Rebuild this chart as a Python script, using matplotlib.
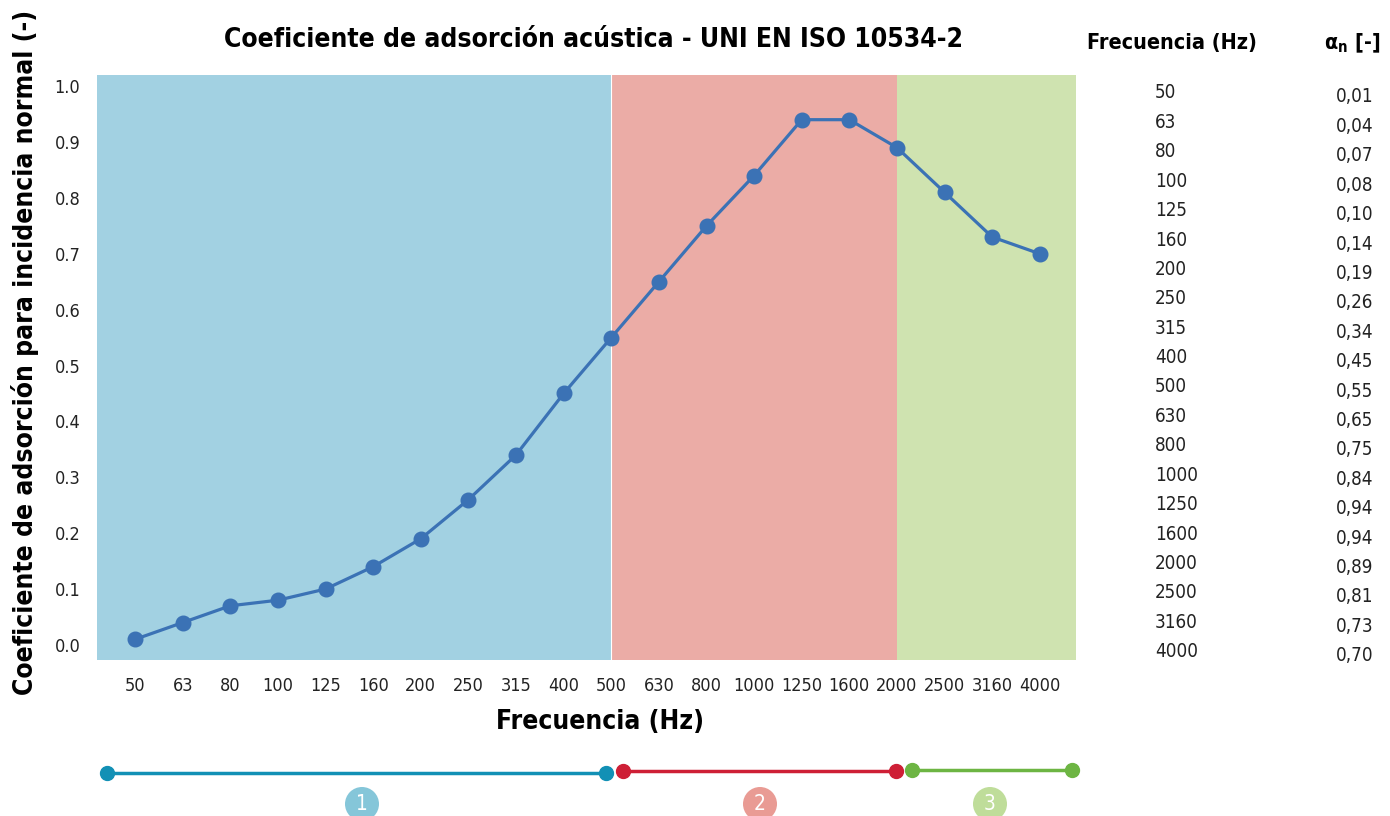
import matplotlib
matplotlib.use("Agg")
import matplotlib.pyplot as plt
from matplotlib.patches import Circle

plt.rcParams['font.family'] = ['DejaVu Sans']
plt.rcParams['font.stretch'] = 'condensed'

freqs = ["50", "63", "80", "100", "125", "160", "200", "250", "315", "400",
         "500", "630", "800", "1000", "1250", "1600", "2000", "2500", "3160", "4000"]
alpha = [0.01, 0.04, 0.07, 0.08, 0.10, 0.14, 0.19, 0.26, 0.34, 0.45,
         0.55, 0.65, 0.75, 0.84, 0.94, 0.94, 0.89, 0.81, 0.73, 0.70]
yticks = [0.0, 0.1, 0.2, 0.3, 0.4, 0.5, 0.6, 0.7, 0.8, 0.9, 1.0]
# zone limits as index into freqs
zones = [(-0.8, 10), (10, 16), (16, 19.76)]
zone_colors = ["#A2D1E2", "#EBACA6", "#CFE3B0"]
bar_colors = ["#1290B5", "#CE1F36", "#6DB543"]
badge_colors = ["#85C6D9", "#E99B94", "#BFDD9A"]

fig = plt.figure(figsize=(13.9, 8.16), dpi=100)
ax = fig.add_axes([0.0698, 0.1912, 0.7043, 0.7169])

x = list(range(len(freqs)))
for (a, b), c in zip(zones, zone_colors):
    ax.axvspan(a, b, color=c, lw=0, zorder=0)
ax.axvline(10, color="white", lw=0.8, zorder=1)

ax.plot(x, alpha, color="#3B72B5", lw=2.3, marker="o", markersize=10.5, zorder=3)

ax.set_xlim(-0.8, 19.76)
ax.set_ylim(-0.027, 1.02)
ax.set_xticks(x)
ax.set_xticklabels(freqs)
ax.set_yticks(yticks)
ax.set_yticklabels([f"{v:.1f}" for v in yticks])
ax.tick_params(length=0, labelsize=13, colors="#222222")
ax.tick_params(axis="x", pad=12)
ax.tick_params(axis="y", pad=12)
for s in ax.spines.values():
    s.set_visible(False)

fig.text(0.427, 0.951, "Coeficiente de adsorción acústica - UNI EN ISO 10534-2",
         ha="center", va="center", fontsize=19, fontweight="bold")
fig.text(0.432, 0.115, "Frecuencia (Hz)", ha="center", va="center",
         fontsize=19, fontweight="bold")
fig.text(0.018, 0.568, "Coeficiente de adsorción para incidencia normal (-)",
         ha="center", va="center", rotation=90, fontsize=19, fontweight="bold")

# right-hand table
fig.text(1172 / 1390, 1 - 43 / 816, "Frecuencia (Hz)", ha="center", va="center",
         fontsize=15.5, fontweight="bold")
fig.text(1352 / 1390, 1 - 43 / 816, "α$_\\mathregular{n}$ [-]", ha="center", va="center",
         fontsize=15.5, fontweight="bold")
for i, (f, a) in enumerate(zip(freqs, alpha)):
    yy = 93 + i * 29.4
    fig.text(1155 / 1390, 1 - yy / 816, f, ha="left", va="center", fontsize=13.5, color="#222222")
    fig.text(1336 / 1390, 1 - (yy + 4) / 816, f"{a:.2f}".replace(".", ","),
             ha="left", va="center", fontsize=13.5, color="#222222")

# zone indicator strip below chart
ov = fig.add_axes([0, 0, 1, 1], zorder=-1)
ov.set_xlim(0, 1390)
ov.set_ylim(816, 0)
ov.axis("off")
segs = [(107, 606, 773), (623, 896, 771), (912, 1072, 770)]
badges = [(362, "1"), (760, "2"), (990, "3")]
for (x0, x1, yy), c in zip(segs, bar_colors):
    ov.plot([x0, x1], [yy, yy], color=c, lw=2.5, marker="o", markersize=10, solid_capstyle="butt")
for (bx, t), c in zip(badges, badge_colors):
    ov.add_patch(Circle((bx, 804), 17, color=c, lw=0))
    ov.text(bx, 804, t, ha="center", va="center", color="white", fontsize=15)

fig.savefig("out.png", dpi=100)
